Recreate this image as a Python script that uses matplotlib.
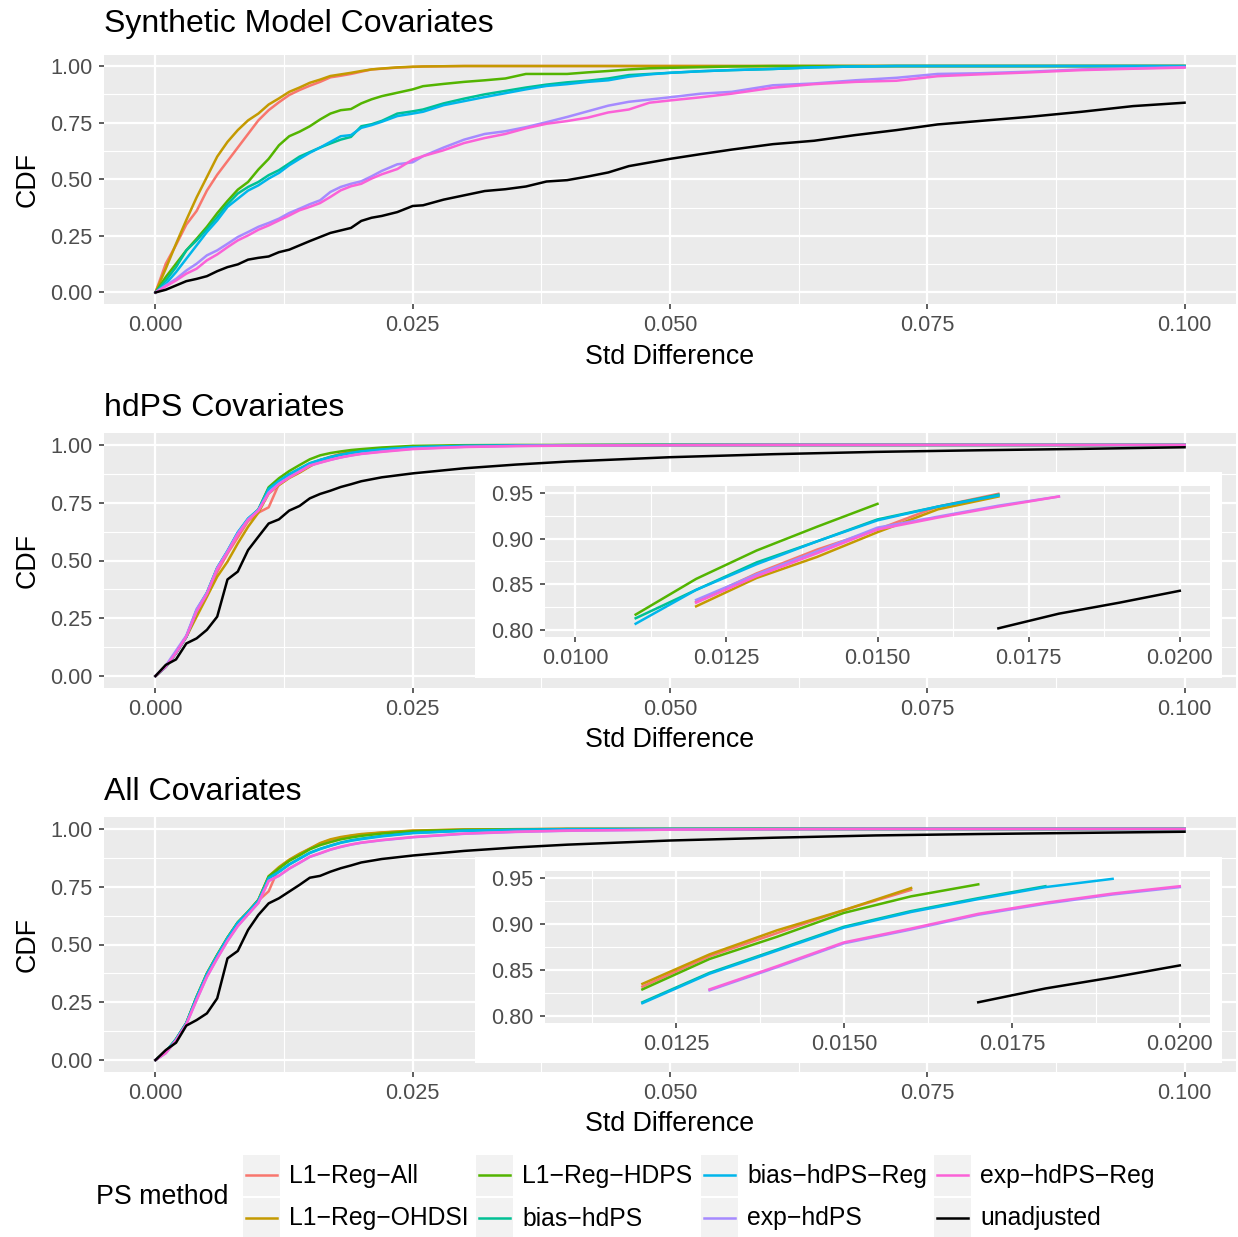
import matplotlib.pyplot as plt
from matplotlib.lines import Line2D
from matplotlib.patches import Rectangle
from matplotlib.ticker import FormatStrFormatter

plt.rcParams["font.family"] = ["Liberation Sans", "DejaVu Sans"]

# PS methods, in legend order
METHODS = ["L1\u2212Reg\u2212All", "L1\u2212Reg\u2212OHDSI", "L1\u2212Reg\u2212HDPS", "bias\u2212hdPS",
           "bias\u2212hdPS\u2212Reg", "exp\u2212hdPS", "exp\u2212hdPS\u2212Reg", "unadjusted"]
COLORS = ["#F8766D", "#C49A00", "#53B400", "#00C094", "#00B6EB", "#A58AFF", "#FB61D7", "#000000"]

# --- Synthetic Model Covariates: std difference grid and CDF values ---
SYN_X = [0, .001, .002, .003, .004, .005, .006, .007, .008, .009,
         .010, .011, .012, .013, .014, .015, .016, .017, .018, .019,
         .020, .021, .022, .0235, .025, .026, .028, .030, .032, .034,
         .036, .038, .040, .042, .044, .046, .048, .050, .053, .056,
         .060, .064, .068, .072, .076, .080, .085, .090, .095, .100]
SYN_L1_ALL = [0, .127, .21, .30, .36, .45, .52, .58, .64, .70,
              .76, .805, .84, .872, .894, .913, .93, .95, .957, .965,
              .975, .985, .988, .993, .996, .998, .999, 1, 1, 1,
              1, 1, 1, 1, 1, 1, 1, 1, 1, 1,
              1, 1, 1, 1, 1, 1, 1, 1, 1, 1]
SYN_L1_OHDSI = [0, .105, .215, .32, .42, .51, .60, .665, .717, .76,
                .79, .83, .857, .886, .905, .926, .94, .956, .963, .97,
                .978, .985, .989, .994, .997, .998, .999, 1, 1, 1,
                1, 1, 1, 1, 1, 1, 1, 1, 1, 1,
                1, 1, 1, 1, 1, 1, 1, 1, 1, 1]
SYN_L1_HDPS = [0, .068, .127, .186, .237, .29, .35, .404, .454, .488,
               .543, .59, .65, .69, .71, .734, .764, .79, .805, .81,
               .835, .853, .867, .882, .897, .911, .921, .93, .937, .945,
               .965, .965, .965, .972, .978, .985, .99, .992, .995, .998,
               1, 1, 1, 1, 1, 1, 1, 1, 1, 1]
SYN_BIAS = [0, .053, .112, .186, .23, .28, .333, .39, .437, .466,
            .488, .518, .54, .57, .60, .62, .64, .658, .675, .687,
            .734, .743, .758, .79, .80, .808, .835, .856, .875, .89,
            .905, .918, .928, .935, .945, .96, .965, .97, .977, .982,
            .987, .994, .998, 1, 1, 1, 1, 1, 1, 1]
SYN_BIAS_REG = [0, .038, .09, .149, .208, .267, .318, .378, .414, .45,
                .473, .503, .528, .562, .59, .617, .64, .665, .69, .695,
                .727, .739, .754, .779, .79, .798, .827, .845, .863, .88,
                .897, .912, .92, .93, .937, .953, .963, .97, .977, .982,
                .987, .994, .998, 1, 1, 1, 1, 1, 1, 1]
SYN_EXP = [0, .031, .06, .097, .127, .164, .186, .215, .245, .267,
           .29, .307, .326, .351, .37, .39, .407, .444, .466, .48,
           .491, .513, .537, .566, .575, .602, .64, .675, .70, .712,
           .73, .752, .775, .80, .825, .842, .852, .862, .878, .886,
           .915, .923, .937, .948, .965, .968, .975, .985, .99, .995]
SYN_EXP_REG = [0, .027, .053, .083, .105, .142, .168, .20, .23, .252,
               .277, .296, .318, .34, .363, .378, .395, .422, .451, .469,
               .48, .503, .522, .545, .587, .602, .628, .66, .682, .70,
               .725, .745, .757, .772, .795, .808, .838, .848, .862, .878,
               .904, .92, .93, .935, .955, .963, .972, .982, .988, .993]
SYN_UNADJ = [0, .012, .031, .05, .06, .072, .094, .112, .124, .145,
             .153, .159, .178, .189, .208, .227, .245, .263, .274, .285,
             .316, .33, .338, .355, .382, .385, .41, .429, .448, .456,
             .468, .49, .496, .512, .53, .558, .574, .59, .611, .631,
             .655, .67, .695, .717, .742, .757, .776, .798, .823, .838]

# --- hdPS / All covariates share one grid ---
COV_X = [0, .001, .002, .003, .004, .005, .006, .007, .008, .009,
         .010, .011, .012, .013, .014, .015, .016, .017, .018, .019,
         .020, .022, .025, .030, .035, .040, .050, .060, .070, .080, .090, .100]

HD_L1_ALL = [0, .04, .10, .17, .27, .35, .45, .53, .60, .67,
             .707, .73, .831, .862, .888, .91, .935, .949, .962, .97,
             .977, .985, .992, .996, .998, .999, 1, 1, 1, 1, 1, 1]
HD_L1_OHDSI = [0, .04, .10, .17, .257, .343, .43, .495, .574, .646,
               .707, .79, .826, .857, .88, .907, .932, .946, .96, .968,
               .975, .984, .992, .996, .998, .999, 1, 1, 1, 1, 1, 1]
HD_L1_HDPS = [0, .04, .10, .17, .278, .358, .466, .538, .618, .678,
              .72, .817, .856, .887, .913, .938, .955, .965, .972, .978,
              .982, .989, .996, .999, 1, 1, 1, 1, 1, 1, 1, 1]
HD_BIAS = [0, .04, .10, .17, .285, .36, .468, .54, .62, .68,
           .72, .813, .844, .874, .897, .921, .935, .948, .958, .966,
           .972, .981, .99, .996, .998, .999, 1, 1, 1, 1, 1, 1]
HD_BIAS_REG = [0, .04, .10, .17, .286, .36, .468, .542, .622, .682,
               .72, .807, .844, .872, .897, .92, .935, .947, .957, .965,
               .972, .98, .99, .996, .998, .999, 1, 1, 1, 1, 1, 1]
HD_EXP = [0, .045, .11, .175, .29, .36, .468, .54, .618, .678,
          .718, .795, .833, .861, .886, .912, .924, .936, .946, .955,
          .962, .972, .984, .992, .996, .998, .999, 1, 1, 1, 1, 1]
HD_EXP_REG = [0, .04, .10, .17, .278, .355, .462, .535, .612, .675,
              .715, .79, .83, .859, .884, .91, .923, .935, .946, .954,
              .961, .97, .982, .991, .995, .997, .999, 1, 1, 1, 1, 1]
HD_UNADJ = [0, .048, .072, .141, .163, .20, .257, .418, .452, .545,
            .603, .66, .678, .716, .736, .769, .788, .802, .818, .83,
            .843, .86, .877, .899, .915, .928, .947, .96, .97, .977, .983, .99]

ALL_L1_ALL = [0, .035, .09, .16, .27, .37, .45, .525, .59, .64,
              .69, .73, .832, .865, .89, .915, .937, .952, .962, .97,
              .976, .984, .992, .997, .999, 1, 1, 1, 1, 1, 1, 1]
ALL_L1_OHDSI = [0, .035, .09, .16, .274, .375, .455, .53, .596, .642,
                .693, .795, .835, .867, .893, .915, .939, .955, .965, .972,
                .978, .985, .993, .998, .999, 1, 1, 1, 1, 1, 1, 1]
ALL_L1_HDPS = [0, .035, .09, .16, .274, .375, .455, .53, .596, .642,
               .693, .795, .829, .862, .886, .912, .93, .943, .955, .963,
               .97, .98, .99, .996, .998, 1, 1, 1, 1, 1, 1, 1]
ALL_BIAS = [0, .035, .09, .16, .272, .372, .452, .528, .594, .64,
            .69, .79, .815, .847, .872, .897, .914, .928, .941, .951,
            .958, .97, .983, .993, .997, .999, 1, 1, 1, 1, 1, 1]
ALL_BIAS_REG = [0, .035, .09, .16, .272, .372, .452, .528, .594, .64,
                .69, .785, .814, .846, .871, .896, .913, .927, .94, .949,
                .956, .968, .982, .992, .996, .999, 1, 1, 1, 1, 1, 1]
ALL_EXP = [0, .03, .085, .155, .26, .36, .44, .515, .58, .63,
           .68, .775, .797, .828, .853, .879, .894, .91, .922, .932,
           .94, .951, .964, .979, .987, .992, .997, .999, 1, 1, 1, 1]
ALL_EXP_REG = [0, .03, .085, .155, .26, .36, .44, .515, .58, .63,
               .68, .775, .798, .829, .854, .88, .895, .911, .923, .933,
               .941, .952, .965, .98, .988, .993, .997, .999, 1, 1, 1, 1]
ALL_UNADJ = [0, .043, .075, .149, .173, .202, .267, .44, .472, .563,
             .628, .678, .70, .729, .758, .789, .797, .815, .83, .842,
             .855, .87, .885, .905, .92, .932, .95, .962, .972, .978, .983, .988]

TITLES = ["Synthetic Model Covariates", "hdPS Covariates", "All Covariates"]
X_TICKS = [0, 0.025, 0.05, 0.075, 0.1]
Y_TICKS = [0, 0.25, 0.5, 0.75, 1.0]
INSET_Y_TICKS = [0.80, 0.85, 0.90, 0.95]

W, H = 1238, 1237
PANEL = "#EBEBEB"


def box(x0, y0, x1, y1):
    # pixel box (top-left origin) -> figure fraction rect
    return [x0 / W, 1 - y1 / H, (x1 - x0) / W, (y1 - y0) / H]


def style(ax, xmaj, xmin, xfmt, ymaj, ymin, yfmt):
    ax.set_facecolor(PANEL)
    for s in ax.spines.values():
        s.set_visible(False)
    ax.set_xticks(xmaj)
    ax.set_xticks(xmin, minor=True)
    ax.set_yticks(ymaj)
    ax.set_yticks(ymin, minor=True)
    ax.xaxis.set_major_formatter(FormatStrFormatter(xfmt))
    ax.yaxis.set_major_formatter(FormatStrFormatter(yfmt))
    ax.grid(which="major", color="white", lw=1.6)
    ax.grid(which="minor", color="white", lw=0.8)
    ax.set_axisbelow(True)
    ax.tick_params(which="major", length=3.6, width=1.1, color="#333333",
                   labelcolor="#4D4D4D", labelsize=15.6, pad=4.5)
    ax.tick_params(which="minor", length=0)


def draw_lines(ax, xs, series):
    for ys, c in zip(series, COLORS):
        ax.plot(xs, ys, color=c, lw=1.8, solid_joinstyle="round")


def inset_part(xs, ys):
    # the zoom keeps the 0.80-0.95 band between 0.010 and 0.020
    pts = [(x, y) for x, y in zip(xs, ys) if 0.8 <= y <= 0.95 and 0.01 <= x <= 0.02]
    return [p[0] for p in pts], [p[1] for p in pts]


panels = [
    (SYN_X, [SYN_L1_ALL, SYN_L1_OHDSI, SYN_L1_HDPS, SYN_BIAS, SYN_BIAS_REG, SYN_EXP, SYN_EXP_REG, SYN_UNADJ]),
    (COV_X, [HD_L1_ALL, HD_L1_OHDSI, HD_L1_HDPS, HD_BIAS, HD_BIAS_REG, HD_EXP, HD_EXP_REG, HD_UNADJ]),
    (COV_X, [ALL_L1_ALL, ALL_L1_OHDSI, ALL_L1_HDPS, ALL_BIAS, ALL_BIAS_REG, ALL_EXP, ALL_EXP_REG, ALL_UNADJ]),
]
panel_boxes = [(104, 54.7, 1236, 303.8), (104, 433.4, 1236, 687.6), (104, 817.4, 1236, 1071.6)]
title_pads = [16, 12.5, 12.5]

# inset: white backing box, gray panel box, x limits, x ticks
insets = {
    1: ((475, 472, 1222, 678), (545, 486, 1210, 637), (0.0095, 0.0205),
        [0.0100, 0.0125, 0.0150, 0.0175, 0.0200]),
    2: ((475, 857, 1222, 1063), (545, 871, 1210, 1023), (0.01055, 0.02045),
        [0.0125, 0.0150, 0.0175, 0.0200]),
}

fig = plt.figure(figsize=(W / 100, H / 100), dpi=100)

for i, ((xs, series), pb) in enumerate(zip(panels, panel_boxes)):
    ax = fig.add_axes(box(*pb))
    draw_lines(ax, xs, series)
    ax.set_xlim(-0.005, 0.105)
    ax.set_ylim(-0.05, 1.05)
    style(ax, X_TICKS, [0.0125, 0.0375, 0.0625, 0.0875], "%.3f",
          Y_TICKS, [0.125, 0.375, 0.625, 0.875], "%.2f")
    ax.set_title(TITLES[i], loc="left", fontsize=23, pad=title_pads[i])
    ax.set_xlabel("Std Difference", fontsize=19.3, labelpad=5.5)
    ax.set_ylabel("CDF", fontsize=19.3, labelpad=7)

    if i in insets:
        wb, gb, xlim, xt = insets[i]
        fig.add_artist(Rectangle((wb[0] / W, 1 - wb[3] / H), (wb[2] - wb[0]) / W,
                                 (wb[3] - wb[1]) / H, transform=fig.transFigure,
                                 facecolor="white", edgecolor="none", zorder=1))
        iax = fig.add_axes(box(*gb))
        iax.set_zorder(2)
        for ys, c in zip(series, COLORS):
            ix, iy = inset_part(xs, ys)
            iax.plot(ix, iy, color=c, lw=1.8, solid_joinstyle="round")
        iax.set_xlim(*xlim)
        iax.set_ylim(0.7925, 0.9575)
        xminor = [t + 0.00125 for t in [0.0100, 0.0125, 0.0150, 0.0175]]
        style(iax, xt, xminor, "%.4f", INSET_Y_TICKS, [0.825, 0.875, 0.925], "%.2f")

# legend drawn in pixel space
lax = fig.add_axes([0, 0, 1, 1])
lax.set_xlim(0, W)
lax.set_ylim(H, 0)
lax.axis("off")
lax.text(96, 1197, "PS method", fontsize=19.3, va="center", ha="left")
key_x = [243, 476, 701, 934]
row_y = [1175, 1218]
for k, (name, c) in enumerate(zip(METHODS, COLORS)):
    col, row = k // 2, k % 2
    kx, ky = key_x[col], row_y[row]
    lax.add_patch(Rectangle((kx, ky - 20.5), 37, 41, facecolor="#F2F2F2", edgecolor="none"))
    lax.add_line(Line2D([kx + 3, kx + 34], [ky, ky], color=c, lw=1.8))
    lax.text(kx + 46, ky + 0.5, name, fontsize=17.8, va="center", ha="left")

fig.savefig("out.png", dpi=100)
